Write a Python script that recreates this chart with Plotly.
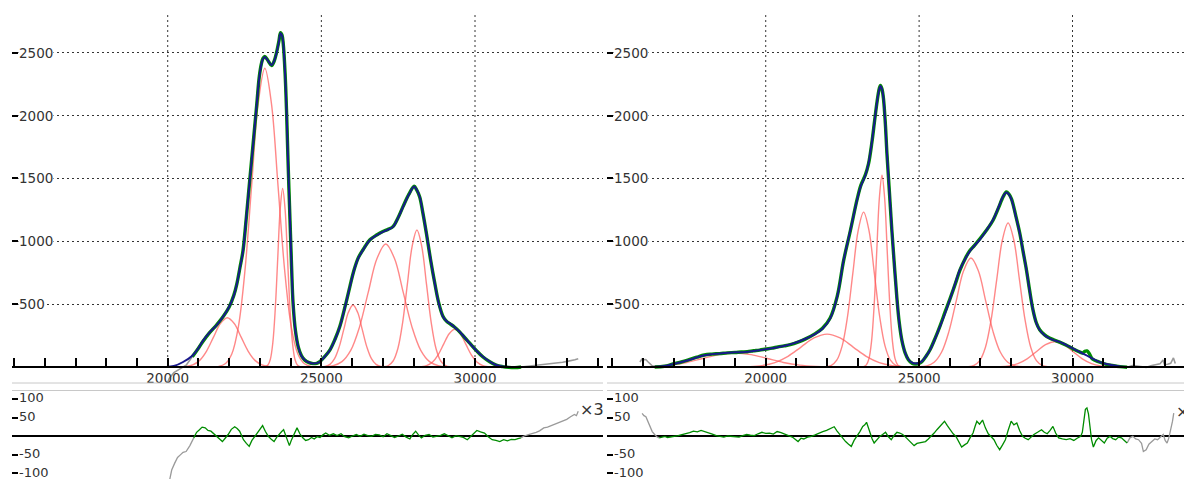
import plotly.graph_objects as go

# page is rendered with an 8px body margin: build the figure 8px smaller and shift
PAGE_MARGIN = 8
W, H = 1192 - PAGE_MARGIN, 479 - PAGE_MARGIN

# ---------------- ticks / labels ----------------
X_GRID = [20000, 25000, 30000]
X_TICK_LABELS = ["20000", "25000", "30000"]
X_MINOR_STEP = 1000
Y_TICKS = [500, 1000, 1500, 2000, 2500]
Y_TICK_LABELS = ["500", "1000", "1500", "2000", "2500"]
RES_TICKS = [-100, -50, 50, 100]
RES_TICK_LABELS = ["-100", "-50", "50", "100"]
RES_SCALE_LABEL = "×3"

L_XRANGE = [14933, 34165]
R_XRANGE = [14826, 33895]
MAIN_YRANGE = [-127, 2808]
RES_YRANGE = [-116.2, 121.6]

# ---------------- LEFT panel ----------------
L_MODEL_X = [19950, 20200, 20500, 20800, 21000, 21150, 21350, 21600, 21800, 22000, 22150, 22250, 22350, 22450,
             22560, 22680, 22790, 22900, 22980, 23060, 23100, 23160, 23270, 23380, 23460, 23540, 23620, 23670,
             23720, 23760, 23820, 23870, 23920, 23980, 24030, 24080, 24160, 24250, 24350, 24460, 24600, 24730,
             24850, 24950, 25100, 25280, 25450, 25600, 25770, 25930, 26050, 26200, 26400, 26580, 26800, 27000,
             27170, 27330, 27500, 27660, 27850, 28020, 28100, 28200, 28300, 28420, 28550, 28690, 28820, 28960,
             29070, 29180, 29330, 29500, 29660, 29830, 30050, 30260, 30480, 30690, 30900, 31100, 31300]
L_MODEL_Y = [0, 8, 40, 90, 150, 210, 272, 335, 400, 480, 568, 660, 788, 920,
             1200, 1510, 1800, 2100, 2305, 2420, 2450, 2465, 2435, 2400, 2432, 2495, 2590, 2655,
             2638, 2575, 2330, 2020, 1600, 1170, 800, 510, 280, 160, 90, 56, 36, 28,
             31, 42, 80, 135, 222, 320, 478, 640, 758, 865, 948, 1010, 1048, 1075,
             1093, 1115, 1188, 1275, 1372, 1435, 1412, 1355, 1232, 1063, 862, 666, 508, 400,
             366, 347, 318, 281, 236, 188, 130, 82, 44, 16, 4, 0, 0]

L_DATA_X = [20800, 21000, 21150, 21350, 21600, 21800, 22000, 22150, 22250, 22350, 22450, 22560, 22680, 22790,
            22900, 22980, 23060, 23100, 23160, 23270, 23380, 23460, 23540, 23620, 23670, 23720, 23760, 23820,
            23870, 23920, 23980, 24030, 24080, 24160, 24250, 24350, 24460, 24600, 24730, 24850, 24950, 25100,
            25280, 25450, 25600, 25770, 25930, 26050, 26200, 26400, 26580, 26800, 27000, 27170, 27330, 27500,
            27660, 27850, 28020, 28100, 28200, 28300, 28420, 28550, 28690, 28820, 28960, 29070, 29180, 29330,
            29500, 29660, 29830, 30050, 30260, 30480, 30690, 30900, 31100, 31300, 31500]
L_DATA_Y = [82, 150, 205, 270, 338, 400, 478, 570, 662, 790, 925, 1195, 1515, 1805,
            2095, 2310, 2425, 2455, 2470, 2435, 2398, 2430, 2500, 2595, 2660, 2640, 2570, 2335,
            2015, 1605, 1165, 805, 505, 282, 158, 92, 55, 35, 27, 30, 43, 80,
            137, 225, 322, 480, 642, 760, 868, 950, 1012, 1050, 1078, 1095, 1117, 1190,
            1278, 1375, 1438, 1410, 1352, 1230, 1060, 860, 668, 510, 402, 365, 345, 318,
            280, 235, 190, 130, 80, 42, 15, 3, -3, -5, 0]
L_DATA_GRAY1_X = [19950, 20050, 20200, 20400, 20600, 20800]
L_DATA_GRAY1_Y = [-150, -90, -45, -15, 15, 82]
L_DATA_GRAY2_X = [31500, 31650, 31800, 31950, 32100, 32250, 32400, 32550, 32700, 32850, 33000, 33150, 33250, 33359]
L_DATA_GRAY2_Y = [0, 4, 8, 10, 15, 18, 25, 28, 35, 38, 45, 50, 58, 66]

L_P1_X = [20365, 20590, 20815, 21040, 21265, 21490, 21715, 21940, 22165, 22390, 22615, 22840, 23065, 23290, 23515]
L_P1_Y = [0.9, 4.4, 17.2, 53.0, 127.3, 237.7, 345.9, 392, 345.9, 237.7, 127.3, 53.0, 17.2, 4.4, 0.9]
L_P2_X = [21655, 21870, 22085, 22300, 22515, 22730, 22945, 23160, 23375, 23590, 23805, 24020, 24235, 24450, 24665]
L_P2_Y = [5, 26, 104, 321, 771, 1441, 2097, 2376, 2097, 1441, 771, 321, 104, 26, 5]
L_P3_X = [23180, 23260, 23340, 23420, 23500, 23580, 23660, 23740, 23820, 23900, 23980, 24060, 24140, 24220, 24300]
L_P3_Y = [3.1, 15.8, 62.4, 192.3, 461.4, 861.8, 1254, 1421, 1254, 861.8, 461.4, 192.3, 62.4, 15.8, 3.1]
L_P4_X = [24980, 25130, 25280, 25430, 25580, 25730, 25880, 26030, 26180, 26330, 26480, 26630, 26780, 26930, 27080]
L_P4_Y = [1.1, 5.5, 21.6, 66.7, 160.1, 299.0, 435.1, 493, 435.1, 299.0, 160.1, 66.7, 21.6, 5.5, 1.1]
L_P5_X = [25100, 25385, 25670, 25955, 26240, 26525, 26810, 27095, 27380, 27665, 27950, 28235, 28520, 28805, 29090]
L_P5_Y = [2.2, 10.9, 42.9, 132.3, 317.6, 593.2, 863.1, 978, 863.1, 593.2, 317.6, 132.3, 42.9, 10.9, 2.2]
L_P6_X = [27025, 27180, 27335, 27490, 27645, 27800, 27955, 28110, 28265, 28420, 28575, 28730, 28885, 29040, 29195]
L_P6_Y = [2.4, 12.1, 47.9, 147.5, 353.9, 661.1, 961.9, 1090, 961.9, 661.1, 353.9, 147.5, 47.9, 12.1, 2.4]
L_P7_X = [28080, 28260, 28440, 28620, 28800, 28980, 29160, 29340, 29520, 29700, 29880, 30060, 30240, 30420, 30600]
L_P7_Y = [0.7, 3.3, 13.2, 40.6, 97.4, 182.0, 264.8, 300, 264.8, 182.0, 97.4, 40.6, 13.2, 3.3, 0.7]

L_RES_GRAY1_X = [19960, 20037, 20130, 20224, 20320, 20411, 20500, 20598, 20722, 20847]
L_RES_GRAY1_Y = [-160, -125, -92, -74, -58, -51, -44, -42, -26, -5]
L_RES_X = [20847, 20940, 21033, 21120, 21220, 21310, 21407, 21500, 21594, 21690, 21780, 21870, 21967, 22070,
           22179, 22260, 22341, 22400, 22465, 22560, 22652, 22740, 22839, 22960, 23088, 23180, 23274, 23370,
           23461, 23550, 23648, 23710, 23772, 23860, 23959, 24020, 24084, 24150, 24208, 24300, 24395, 24490,
           24582, 24680, 24768, 24860, 24955, 25050, 25142, 25260, 25391, 25510, 25640, 25760, 25889, 26010,
           26138, 26260, 26387, 26510, 26636, 26760, 26885, 27010, 27134, 27260, 27383, 27510, 27632, 27760,
           27881, 27970, 28068, 28160, 28255, 28380, 28504, 28630, 28753, 28880, 29002, 29130, 29251, 29380,
           29500, 29620, 29749, 29900, 30060, 30180, 30309, 30430, 30558, 30680, 30807, 30930, 31056, 31180,
           31305, 31400, 31492]
L_RES_Y = [-5, 10, 17, 24, 22, 15, 13, 6, -1, -8, -15, -6, 4, 18,
           25, 20, 13, 2, -10, -20, -28, -12, -1, 15, 28, 12, -1, -9,
           -15, -3, 8, 12, 17, -5, -26, -12, -1, 12, 22, 6, -5, -12,
           -10, -4, -8, -2, -4, 3, 8, 2, 6, 1, 6, -2, -5, 0,
           4, -1, 5, 1, -1, 4, 3, -2, 6, 1, -4, 0, 5, -3,
           -8, 4, 13, 3, -5, 2, 4, -3, -1, 2, 6, 0, -5, 1,
           -1, -4, -10, 2, 15, 11, 8, -2, -10, -12, -15, -10, -13, -9,
           -10, -7, -5]
L_RES_GRAY2_X = [31492, 31600, 31740, 31860, 31989, 32100, 32238, 32360, 32487, 32610, 32736, 32860, 32985,
                 33110, 33234, 33300, 33359]
L_RES_GRAY2_Y = [-5, 0, 4, 6, 10, 14, 22, 24, 28, 33, 37, 40, 45, 52, 58, 55, 67]

# ---------------- RIGHT panel ----------------
R_MODEL_X = [16300, 16700, 17000, 17500, 18000, 18500, 19000, 19200, 19600, 20000, 20400, 20800, 21300, 21600,
             21850, 22100, 22330, 22540, 22760, 22980, 23100, 23250, 23350, 23460, 23550, 23630, 23700, 23740,
             23790, 23840, 23900, 23950, 24030, 24110, 24190, 24270, 24350, 24440, 24550, 24650, 24770, 24870,
             24980, 25090, 25220, 25360, 25520, 25680, 25850, 26000, 26170, 26330, 26500, 26650, 26800, 26980,
             27200, 27410, 27580, 27740, 27845, 27920, 28010, 28150, 28280, 28390, 28500, 28600, 28710, 28820,
             28930, 29080, 29250, 29400, 29580, 29800, 30010, 30230, 30440, 30650, 30870, 31100, 31300, 31550,
             31750]
R_MODEL_Y = [0, 8, 24, 56, 93, 108, 118, 118, 128, 141, 158, 180, 225, 262,
             305, 385, 560, 850, 1090, 1330, 1440, 1525, 1620, 1790, 1960, 2110, 2210, 2235,
             2210, 2135, 1930, 1705, 1400, 1095, 820, 565, 360, 212, 110, 60, 35, 28,
             32, 45, 85, 138, 225, 322, 430, 535, 660, 775, 860, 920, 965, 1014,
             1090, 1172, 1265, 1358, 1388, 1375, 1333, 1200, 1065, 920, 772, 610, 455, 350,
             295, 255, 228, 212, 200, 175, 148, 120, 94, 67, 41, 24, 14, 5,
             0]

R_DATA_X = [16380, 16700, 17000, 17250, 17500, 17750, 18000, 18250, 18500, 18750, 19000, 19200, 19400, 19600,
            19800, 20000, 20200, 20400, 20600, 20800, 21050, 21300, 21600, 21850, 22100, 22330, 22540, 22760,
            22980, 23100, 23250, 23350, 23460, 23550, 23630, 23700, 23740, 23790, 23840, 23900, 23950, 24030,
            24110, 24190, 24270, 24350, 24440, 24550, 24650, 24770, 24870, 24980, 25090, 25220, 25360, 25520,
            25680, 25850, 26000, 26170, 26330, 26500, 26650, 26800, 26980, 27200, 27410, 27580, 27740, 27845,
            27920, 28010, 28150, 28280, 28390, 28500, 28600, 28710, 28820, 28930, 29080, 29250, 29400, 29580,
            29800, 30010, 30230, 30330, 30400, 30470, 30540, 30650, 30870, 31100, 31300, 31550, 31780]
R_DATA_Y = [0, 6, 26, 40, 58, 78, 96, 103, 107, 113, 116, 120, 122, 129,
            135, 143, 150, 160, 168, 178, 198, 224, 264, 308, 390, 562, 848, 1086,
            1335, 1445, 1530, 1615, 1785, 1962, 2112, 2214, 2240, 2212, 2130, 1932, 1702, 1398,
            1092, 822, 566, 358, 210, 108, 58, 30, 24, 28, 42, 84, 140, 228,
            326, 440, 538, 655, 770, 862, 925, 966, 1020, 1090, 1168, 1262, 1355, 1393,
            1378, 1338, 1204, 1066, 918, 770, 612, 457, 352, 297, 258, 230, 215, 198,
            173, 146, 120, 112, 125, 128, 110, 64, 40, 22, 12, 3, -2]
R_DATA_GRAY1_X = [15900, 15960, 16020, 16090, 16160, 16230, 16300, 16380]
R_DATA_GRAY1_Y = [40, 62, 58, 60, 42, 25, 10, 0]
R_DATA_GRAY2_X = [31780, 31950, 32100, 32250, 32400, 32550, 32700, 32850, 32950, 33000, 33100, 33200, 33290, 33350]
R_DATA_GRAY2_Y = [-2, 12, 8, 2, -3, 10, 18, 25, 55, 20, 22, 30, 72, 28]

R_P1_X = [15325, 15850, 16375, 16900, 17425, 17950, 18475, 19000, 19525, 20050, 20575, 21100, 21625, 22150, 22675]
R_P1_Y = [0.2, 1.2, 4.9, 15.2, 36.4, 67.9, 98.8, 112, 98.8, 67.9, 36.4, 15.2, 4.9, 1.2, 0.2]
R_P2_X = [19025, 19450, 19875, 20300, 20725, 21150, 21575, 22000, 22425, 22850, 23275, 23700, 24125, 24550, 24975]
R_P2_Y = [0.6, 2.9, 11.5, 35.4, 85.1, 158.9, 231.2, 262, 231.2, 158.9, 85.1, 35.4, 11.5, 2.9, 0.6]
R_P3_X = [21965, 22140, 22315, 22490, 22665, 22840, 23015, 23190, 23365, 23540, 23715, 23890, 24065, 24240, 24415]
R_P3_Y = [2.7, 13.7, 54.1, 166.7, 400.0, 747.2, 1087.2, 1232, 1087.2, 747.2, 400.0, 166.7, 54.1, 13.7, 2.7]
R_P4_X = [23195, 23280, 23365, 23450, 23535, 23620, 23705, 23790, 23875, 23960, 24045, 24130, 24215, 24300, 24385]
R_P4_Y = [3.4, 16.9, 67.0, 206.5, 495.5, 925.5, 1346.7, 1526, 1346.7, 925.5, 495.5, 206.5, 67.0, 16.9, 3.4]
R_P5_X = [25010, 25250, 25490, 25730, 25970, 26210, 26450, 26690, 26930, 27170, 27410, 27650, 27890, 28130, 28370]
R_P5_Y = [1.9, 9.6, 38.1, 117.3, 281.5, 525.8, 765.1, 867, 765.1, 525.8, 281.5, 117.3, 38.1, 9.6, 1.9]
R_P6_X = [26605, 26790, 26975, 27160, 27345, 27530, 27715, 27900, 28085, 28270, 28455, 28640, 28825, 29010, 29195]
R_P6_Y = [2.5, 12.7, 50.4, 155.2, 372.4, 695.7, 1012.2, 1147, 1012.2, 695.7, 372.4, 155.2, 50.4, 12.7, 2.5]
R_P7_X = [27320, 27620, 27920, 28220, 28520, 28820, 29120, 29420, 29720, 30020, 30320, 30620, 30920, 31220, 31520]
R_P7_Y = [0.4, 2.2, 8.8, 27.2, 65.3, 121.9, 177.4, 201, 177.4, 121.9, 65.3, 27.2, 8.8, 2.2, 0.4]

R_RES_GRAY1_X = [15970, 16030, 16094, 16160, 16218, 16300, 16379, 16450, 16528]
R_RES_GRAY1_Y = [61, 55, 52, 40, 26, 12, 4, -2, -5]
R_RES_X = [16528, 16620, 16714, 16800, 16900, 17020, 17148, 17270, 17396, 17520, 17644, 17770, 17892, 18010,
           18140, 18260, 18388, 18510, 18636, 18760, 18884, 19010, 19132, 19250, 19380, 19500, 19628, 19750,
           19876, 20000, 20124, 20250, 20372, 20500, 20620, 20740, 20868, 20960, 21054, 21150, 21240, 21360,
           21488, 21610, 21736, 21860, 21984, 22110, 22232, 22320, 22418, 22510, 22604, 22700, 22790, 22880,
           22976, 23070, 23162, 23230, 23286, 23350, 23410, 23470, 23534, 23630, 23720, 23810, 23906, 24000,
           24092, 24190, 24278, 24370, 24464, 24560, 24650, 24740, 24836, 24930, 25022, 25110, 25208, 25300,
           25394, 25490, 25580, 25700, 25828, 25920, 26014, 26110, 26200, 26290, 26386, 26480, 26572, 26660,
           26758, 26820, 26882, 26970, 27068, 27160, 27254, 27350, 27440, 27530, 27626, 27720, 27812, 27900,
           28000, 28090, 28184, 28280, 28370, 28460, 28556, 28650, 28742, 28860, 28990, 29080, 29176, 29270,
           29362, 29450, 29548, 29670, 29796, 29920, 30044, 30150, 30267, 30320, 30370, 30420, 30470, 30520,
           30570, 30620, 30680, 30770, 30850, 30940, 31036, 31130, 31222, 31310, 31408, 31500, 31594, 31690,
           31780]
R_RES_Y = [-5, -2, -1, -4, -3, 0, 1, 4, 6, 9, 13, 11, 15, 12,
           10, 5, 1, -2, -3, 0, -1, -4, -3, 1, 4, 2, 1, 6,
           10, 7, 8, 5, 12, 9, 4, 1, -3, -9, -15, -6, -8, -3,
           -1, 3, 8, 12, 15, 20, 25, 14, 4, -6, -15, -22, -28, -12,
           -1, 12, 26, 30, 37, 20, 6, -8, -19, -9, -1, 4, 10, -2,
           -10, 2, 10, 8, 4, -3, -10, -18, -26, -20, -19, -16, -15, -8,
           -1, 8, 17, 28, 40, 28, 17, 6, -1, -15, -30, -24, -19, -5,
           8, 25, 40, 32, 43, 22, 6, -2, -10, -25, -37, -24, -10, 15,
           40, 30, 35, 14, -1, -6, -10, -3, 4, 10, 17, 10, 6, 15,
           26, 8, -5, -8, -10, -7, -12, -6, -1, 10, 45, 72, 76, 60,
           25, -10, -30, -12, -5, -12, -19, -6, -1, -7, -10, -3, -5, -12,
           -19]
R_RES_GRAY2_X = [31780, 31870, 31966, 32060, 32152, 32250, 32310, 32400, 32490, 32586, 32680, 32772, 32870,
                 32958, 33020, 33082, 33140, 33206, 33260, 33300]
R_RES_GRAY2_Y = [-19, -5, -1, -8, -10, -20, -42, -37, -22, -15, -8, -10, -2, 4, -12, -19, -5, 17, 40, 62]

# ---------------- styling ----------------
FONT = "DejaVu Sans"
TXT = "#333333"
GREEN = "rgb(0,140,0)"
GRAY = "#9a9a9a"
NAVY = "rgb(24,24,140)"
RED = "rgba(255,90,90,0.72)"
GRID = "#333333"
SEP = "#c8c8c8"


def px_x(p):  # page pixel -> paper fraction (horizontal)
    return (p - PAGE_MARGIN) / W


def px_y(p):  # page pixel -> paper fraction (vertical)
    return (H - (p - PAGE_MARGIN)) / H


L_DOM = [px_x(12), px_x(603)]
R_DOM = [px_x(607), 1.0]
MAIN_DOM = [px_y(383), px_y(14)]
RES_DOM = [0.0, px_y(391)]
ZERO_POS = MAIN_DOM[0] + (0 - MAIN_YRANGE[0]) / (MAIN_YRANGE[1] - MAIN_YRANGE[0]) * (MAIN_DOM[1] - MAIN_DOM[0])

fig = go.Figure()


def add_line(x, y, xa, ya, color, width, shape="spline"):
    fig.add_trace(go.Scatter(x=x, y=y, xaxis=xa, yaxis=ya, mode="lines",
                             line=dict(color=color, width=width, shape=shape),
                             hoverinfo="skip", showlegend=False))


panels = [
    dict(xa="x", ya="y", xr="x2", yr="y2", dom=L_DOM, rng=L_XRANGE,
         peaks=[(L_P1_X, L_P1_Y), (L_P2_X, L_P2_Y), (L_P3_X, L_P3_Y), (L_P4_X, L_P4_Y),
                (L_P5_X, L_P5_Y), (L_P6_X, L_P6_Y), (L_P7_X, L_P7_Y)],
         data=(L_DATA_X, L_DATA_Y), gray=[(L_DATA_GRAY1_X, L_DATA_GRAY1_Y), (L_DATA_GRAY2_X, L_DATA_GRAY2_Y)],
         model=(L_MODEL_X, L_MODEL_Y), res=(L_RES_X, L_RES_Y),
         resgray=[(L_RES_GRAY1_X, L_RES_GRAY1_Y), (L_RES_GRAY2_X, L_RES_GRAY2_Y)]),
    dict(xa="x3", ya="y3", xr="x4", yr="y4", dom=R_DOM, rng=R_XRANGE,
         peaks=[(R_P1_X, R_P1_Y), (R_P2_X, R_P2_Y), (R_P3_X, R_P3_Y), (R_P4_X, R_P4_Y),
                (R_P5_X, R_P5_Y), (R_P6_X, R_P6_Y), (R_P7_X, R_P7_Y)],
         data=(R_DATA_X, R_DATA_Y), gray=[(R_DATA_GRAY1_X, R_DATA_GRAY1_Y), (R_DATA_GRAY2_X, R_DATA_GRAY2_Y)],
         model=(R_MODEL_X, R_MODEL_Y), res=(R_RES_X, R_RES_Y),
         resgray=[(R_RES_GRAY1_X, R_RES_GRAY1_Y), (R_RES_GRAY2_X, R_RES_GRAY2_Y)]),
]

annotations = []
shapes = []
layout_axes = {}

for p in panels:
    for px, py in p["peaks"]:
        add_line(px, py, p["xa"], p["ya"], RED, 1.4)
    add_line(*p["data"], p["xa"], p["ya"], GREEN, 3.4)
    for gx, gy in p["gray"]:
        add_line(gx, gy, p["xa"], p["ya"], GRAY, 1.6, "linear")
    add_line(*p["model"], p["xa"], p["ya"], NAVY, 2.0)
    for gx, gy in p["resgray"]:
        add_line(gx, gy, p["xr"], p["yr"], GRAY, 1.3, "linear")
    add_line(*p["res"], p["xr"], p["yr"], GREEN, 1.3, "linear")

    xk = "xaxis" + p["xa"][1:]
    yk = "yaxis" + p["ya"][1:]
    xrk = "xaxis" + p["xr"][1:]
    yrk = "yaxis" + p["yr"][1:]

    layout_axes[xk] = dict(domain=p["dom"], range=p["rng"], anchor="free", position=ZERO_POS,
                           showline=True, linecolor="black", linewidth=1.5,
                           tickmode="array", tickvals=X_GRID, ticktext=X_TICK_LABELS,
                           ticks="inside", ticklen=8, tickwidth=1.5, tickcolor="black",
                           minor=dict(dtick=X_MINOR_STEP, tick0=0, ticks="inside", ticklen=8,
                                      tickwidth=1.5, tickcolor="black", showgrid=False),
                           showgrid=False, zeroline=False, ticklabelstandoff=-1,
                           tickfont=dict(family=FONT, size=13.5, color=TXT))
    layout_axes[yk] = dict(domain=MAIN_DOM, range=MAIN_YRANGE, anchor=p["xa"],
                           tickmode="array", tickvals=Y_TICKS, showticklabels=False,
                           ticks="inside", ticklen=6, tickwidth=1.6, tickcolor="black",
                           showgrid=True, gridcolor=GRID, griddash="2px,3px", gridwidth=1,
                           zeroline=False, showline=False)
    layout_axes[xrk] = dict(domain=p["dom"], range=p["rng"], anchor=p["yr"], side="top",
                            showline=True, linecolor=SEP, linewidth=1, ticks="",
                            showticklabels=False, showgrid=False, zeroline=False)
    layout_axes[yrk] = dict(domain=RES_DOM, range=RES_YRANGE, anchor=p["xr"],
                            tickmode="array", tickvals=RES_TICKS, showticklabels=False,
                            ticks="inside", ticklen=6, tickwidth=1.6, tickcolor="black",
                            showgrid=False, zeroline=True, zerolinecolor="black", zerolinewidth=1.5,
                            showline=False)

    # vertical dotted grid lines from the baseline up
    for gx in X_GRID:
        shapes.append(dict(type="line", xref=p["xa"], yref=p["ya"], x0=gx, x1=gx,
                           y0=0, y1=MAIN_YRANGE[1], layer="below",
                           line=dict(color=GRID, width=1, dash="2px,3px")))
    # separator at bottom of main plot
    shapes.append(dict(type="line", xref=p["xa"] + " domain", yref=p["ya"] + " domain",
                       x0=0, x1=1, y0=0, y1=0, line=dict(color=SEP, width=1)))

    # y tick labels (drawn on white so the grid starts after them)
    for v, t in zip(Y_TICKS, Y_TICK_LABELS):
        annotations.append(dict(x=0, xref=p["xa"] + " domain", xanchor="left", xshift=6,
                                y=v, yref=p["ya"], yanchor="middle", text=t,
                                showarrow=False, bgcolor="white", borderpad=0,
                                font=dict(family=FONT, size=13.5, color=TXT)))
    for v, t in zip(RES_TICKS, RES_TICK_LABELS):
        annotations.append(dict(x=0, xref=p["xr"] + " domain", xanchor="left", xshift=6,
                                y=v, yref=p["yr"], yanchor="middle", yshift=1, text=t,
                                showarrow=False, borderpad=0,
                                font=dict(family=FONT, size=13, color=TXT)))
    # residual scale marker at end of residual curve
    endx, endy = p["resgray"][1][0][-1], p["resgray"][1][1][-1]
    annotations.append(dict(x=endx, y=endy, xref=p["xr"], yref=p["yr"], xanchor="left",
                            yanchor="middle", yshift=2, text=RES_SCALE_LABEL, showarrow=False,
                            font=dict(family=FONT, size=16, color=TXT)))

fig.update_layout(width=W, height=H, margin=dict(l=0, r=0, t=0, b=0),
                  paper_bgcolor="white", plot_bgcolor="white", showlegend=False,
                  annotations=annotations, shapes=shapes, **layout_axes)

fig.write_html("out.html")
